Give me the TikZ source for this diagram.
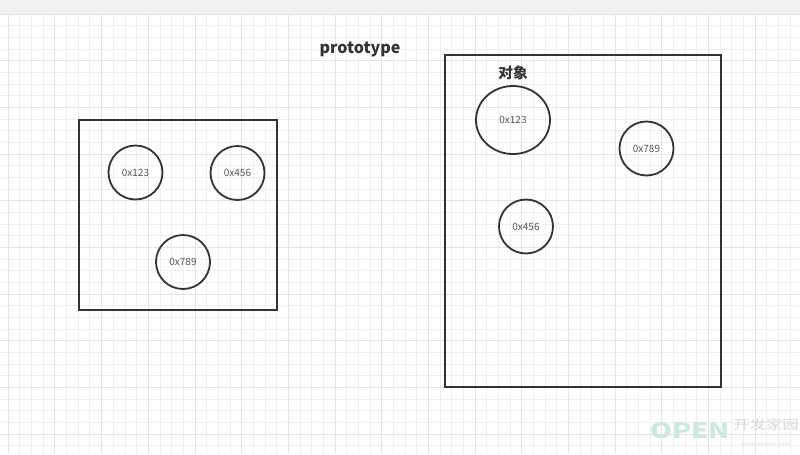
\documentclass[tikz,border=0pt]{standalone}
\usepackage{fontspec}
\setmainfont{Noto Sans CJK SC}
\usepackage{xcolor}
\usetikzlibrary{positioning, shapes.geometric}

\definecolor{gridminor}{HTML}{EFEFEF}
\definecolor{gridmajor}{HTML}{E4E4E4}
\definecolor{topstrip}{HTML}{F1F1F1}
\definecolor{ink}{HTML}{333333}
\definecolor{addrtext}{HTML}{555555}
\definecolor{wmgreen}{HTML}{CDE8DD}
\definecolor{wmgray}{HTML}{D9D9D9}

\begin{document}
\begin{tikzpicture}[
    x=0.75pt, y=-0.75pt,
    frame/.style={draw=ink, line width=1.35pt, inner sep=0pt},
    addr/.style={draw=ink, line width=1.35pt, circle, minimum size=40.5pt, inner sep=0pt,
                 font=\fontsize{7.5}{9}\selectfont, text=addrtext},
    addrwide/.style={addr, ellipse, minimum width=55.5pt, minimum height=51pt},
    title/.style={font=\fontsize{12}{14}\selectfont\bfseries, text=ink},
    minorline/.style={draw=gridminor, line width=0.75pt},
    majorline/.style={draw=gridmajor, line width=0.75pt},
    wmark/.style={inner sep=0pt, xscale=1.3, transform shape},
]

%% ── Canvas and grid ──────────────────────────────────────────────────────
\useasboundingbox (0,0) rectangle (800,454);
\fill[white] (0,0) rectangle (800,454);
\fill[topstrip] (0,0) rectangle (800,13.5);
\foreach \i in {0,...,68}
  \draw[minorline] ({8.3+11.67*\i},13.5) -- ({8.3+11.67*\i},454);
\foreach \j in {0,...,37}
  \draw[minorline] (0,{14+11.67*\j}) -- (800,{14+11.67*\j});
\foreach \i in {0,4,...,68}
  \draw[majorline] ({8.3+11.67*\i},13.5) -- ({8.3+11.67*\i},454);
\foreach \j in {0,4,...,36}
  \draw[majorline] (0,{14+11.67*\j}) -- (800,{14+11.67*\j});

%% ── Prototype box ────────────────────────────────────────────────────────
\node[title] (prototitle) at (360,49) {prototype};
\node[frame, minimum width=148.5pt, minimum height=142.5pt] (protobox) at (178,215) {};
\node[addr] (proto123) at (135.5,172.5) {0x123};
\node[addr] (proto456) at (237.5,173)   {0x456};
\node[addr] (proto789) at (183,262)     {0x789};

%% ── Object box ───────────────────────────────────────────────────────────
\node[frame, minimum width=207pt, minimum height=249pt] (objbox) at (583,221) {};
\node[title, font=\fontsize{11}{13}\selectfont\bfseries] (objtitle) at (513,73) {对象};
\node[addrwide] (obj123) at (513,120)   {0x123};
\node[addr]     (obj789) at (646.5,148.5) {0x789};
\node[addr]     (obj456) at (526,226.5) {0x456};

%% ── Watermark ────────────────────────────────────────────────────────────
\node[wmark, font=\fontsize{16}{16}\selectfont\bfseries, text=wmgreen]
      (wmopen) at (690,430.5) {OPEN};
\node[wmark, font=\fontsize{9.5}{10}\selectfont, text=wmgray,
      text height=7.5pt, text depth=0.5pt]
      (wmname) at (766,425) {开发家园};
\node[wmark, font=\fontsize{3.5}{4}\selectfont, text=wmgray,
      text height=2.5pt, text depth=0.5pt]
      (wmurl) at (766,444) {www.openjc.com};

\end{tikzpicture}
\end{document}
